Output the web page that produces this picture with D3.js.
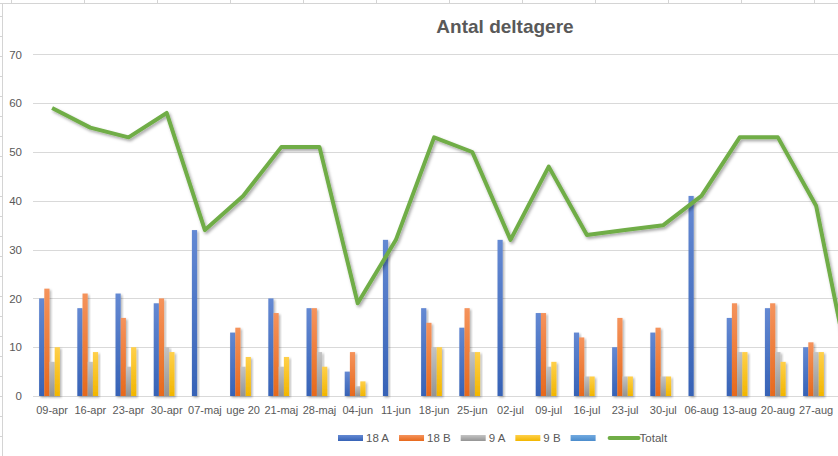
<!DOCTYPE html>
<html>
<head>
<meta charset="utf-8">
<script src="https://cdn.jsdelivr.net/npm/d3@7"></script>
<style>
  body { margin: 0; background: #fff; }
  text { font-family: "Liberation Sans", Arial, sans-serif; fill: #595959; }
</style>
</head>
<body>
<div id="chart"></div>
<script>
// categories (last one is cut off at the right edge)
const weeks = ["09-apr", "16-apr", "23-apr", "30-apr", "07-maj", "uge 20", "21-maj", "28-maj",
  "04-jun", "11-jun", "18-jun", "25-jun", "02-jul", "09-jul", "16-jul", "23-jul", "30-jul",
  "06-aug", "13-aug", "20-aug", "27-aug", "03-sep"];

const s18A = [20, 18, 21, 19, 34, 13, 20, 18, 5, 32, 18, 14, 32, 17, 13, 10, 13, 41, 16, 18, 10, 0];
const s18B = [22, 21, 16, 20, 0, 14, 17, 18, 9, 0, 15, 18, 0, 17, 12, 16, 14, 0, 19, 19, 11, 0];
const s9A = [7, 7, 6, 10, 0, 6, 6, 9, 2, 0, 10, 9, 0, 6, 4, 4, 4, 0, 9, 9, 9, 0];
const s9B = [10, 9, 10, 9, 0, 8, 8, 6, 3, 0, 10, 9, 0, 7, 4, 4, 4, 0, 9, 7, 9, 0];
const sBlank = weeks.map(() => 0);
const totalt = [59, 55, 53, 58, 34, 41, 51, 51, 19, 32, 53, 50, 32, 47, 33, 34, 35, 41, 53, 53, 39, 0];

const yTicks = [0, 10, 20, 30, 40, 50, 60, 70];

const series = [
  { name: "18 A", values: s18A, top: "#6489d3", bottom: "#3662b6" },
  { name: "18 B", values: s18B, top: "#f5935c", bottom: "#e7691c" },
  { name: "9 A", values: s9A, top: "#c4c4c4", bottom: "#949494" },
  { name: "9 B", values: s9B, top: "#ffd04a", bottom: "#f2b600" },
  { name: "", values: sBlank, top: "#72aae0", bottom: "#4b8ccc" }
];

const W = 838, H = 456;
const svg = d3.select("#chart").append("svg").attr("width", W).attr("height", H);

const defs = svg.append("defs");
series.forEach(function (s, i) {
  const g = defs.append("linearGradient").attr("id", "grad" + i)
    .attr("x1", 0).attr("y1", 0).attr("x2", 0).attr("y2", 1);
  g.append("stop").attr("offset", "0%").attr("stop-color", s.top);
  g.append("stop").attr("offset", "100%").attr("stop-color", s.bottom);
});
const sh = defs.append("filter").attr("id", "shadow")
  .attr("x", "-50%").attr("y", "-10%").attr("width", "200%").attr("height", "130%");
sh.append("feDropShadow").attr("dx", 1.5).attr("dy", 1.5).attr("stdDeviation", 1.2)
  .attr("flood-color", "#000").attr("flood-opacity", 0.3);
const lsh = defs.append("filter").attr("id", "lshadow")
  .attr("x", "-10%").attr("y", "-10%").attr("width", "120%").attr("height", "130%");
lsh.append("feDropShadow").attr("dx", 1.5).attr("dy", 2).attr("stdDeviation", 1.5)
  .attr("flood-color", "#000").attr("flood-opacity", 0.35);

// spreadsheet cell grid behind the chart object
const grid = svg.append("g").attr("stroke", "#d4d4d4").attr("stroke-width", 1);
grid.append("line").attr("x1", 0).attr("x2", W).attr("y1", 3.5).attr("y2", 3.5);
d3.range(11, W, 73).forEach(function (x) {
  grid.append("line").attr("x1", x + 0.5).attr("x2", x + 0.5).attr("y1", 0).attr("y2", 3.5);
});
grid.append("line").attr("x1", 2.5).attr("x2", 2.5).attr("y1", 3.5).attr("y2", H);
d3.range(16.5, H, 20).forEach(function (y) {
  grid.append("line").attr("x1", 0).attr("x2", 2.5).attr("y1", y).attr("y2", y);
});

// scales
const left = 33;
const step = 38.2;
const x = d3.scaleBand().domain(weeks).range([left, left + step * weeks.length]).padding(0);
const xs = d3.scaleBand().domain(d3.range(series.length))
  .range([x.bandwidth() * 0.16, x.bandwidth() * 0.84]).padding(0);
const y = d3.scaleLinear().domain([0, 70]).range([396, 54.4]);

// gridlines
svg.append("g").selectAll("line").data(yTicks).join("line")
  .attr("x1", left).attr("x2", W)
  .attr("y1", d => Math.round(y(d)) + 0.5).attr("y2", d => Math.round(y(d)) + 0.5)
  .attr("stroke", "#d9d9d9").attr("stroke-width", 1);

// y axis labels
const yAxis = svg.append("g").attr("transform", "translate(22,0)")
  .call(d3.axisLeft(y).tickValues(yTicks).tickSize(0).tickPadding(0));
yAxis.select(".domain").remove();
yAxis.selectAll("text").style("font-size", "11.5px").attr("fill", "#595959")
  .style("font-family", "'Liberation Sans', Arial, sans-serif");

// x axis labels (the cut-off last category shows no label)
const xAxis = svg.append("g").attr("transform", "translate(0,396)")
  .call(d3.axisBottom(x).tickValues(weeks.slice(0, -1)).tickSize(0).tickPadding(10));
xAxis.select(".domain").remove();
xAxis.selectAll("text").style("font-size", "11px").attr("fill", "#595959")
  .style("font-family", "'Liberation Sans', Arial, sans-serif");

// bars
const groups = svg.append("g").selectAll("g").data(weeks).join("g")
  .attr("transform", d => "translate(" + x(d) + ",0)");
groups.selectAll("rect")
  .data((w, i) => series.map((s, k) => ({ k: k, v: s.values[i] })))
  .join("rect")
  .attr("x", d => xs(d.k))
  .attr("width", xs.bandwidth())
  .attr("y", d => y(d.v))
  .attr("height", d => y(0) - y(d.v))
  .attr("fill", d => "url(#grad" + d.k + ")")
  .attr("filter", d => d.v > 0 ? "url(#shadow)" : null);

// total line
const line = d3.line()
  .x((d, i) => x(weeks[i]) + x.bandwidth() / 2)
  .y(d => y(d));
svg.append("path").datum(totalt)
  .attr("d", line)
  .attr("fill", "none")
  .attr("stroke", "#70ad47")
  .attr("stroke-width", 4)
  .attr("stroke-linejoin", "round")
  .attr("filter", "url(#lshadow)");

// title
svg.append("text")
  .attr("x", 505).attr("y", 33)
  .attr("text-anchor", "middle")
  .style("font-size", "19px")
  .style("font-weight", "bold")
  .text("Antal deltagere");

// legend
const legend = svg.append("g").attr("transform", "translate(338,438)");
let cx = 0;
series.forEach(function (s, i) {
  legend.append("rect").attr("x", cx).attr("y", -3).attr("width", 25).attr("height", 6)
    .attr("fill", "url(#grad" + i + ")");
  cx += 28;
  if (s.name) {
    const t = legend.append("text").attr("x", cx).attr("y", 0).attr("dy", "0.35em")
      .style("font-size", "11.5px").text(s.name);
    cx += t.node().getComputedTextLength();
  }
  cx += 10;
});
cx += 1;
legend.append("line").attr("x1", cx).attr("x2", cx + 29).attr("y1", 0).attr("y2", 0)
  .attr("stroke", "#70ad47").attr("stroke-width", 4).attr("stroke-linecap", "round");
legend.append("text").attr("x", cx + 30).attr("y", 0).attr("dy", "0.35em")
  .style("font-size", "11.5px").text("Totalt");
</script>
</body>
</html>
